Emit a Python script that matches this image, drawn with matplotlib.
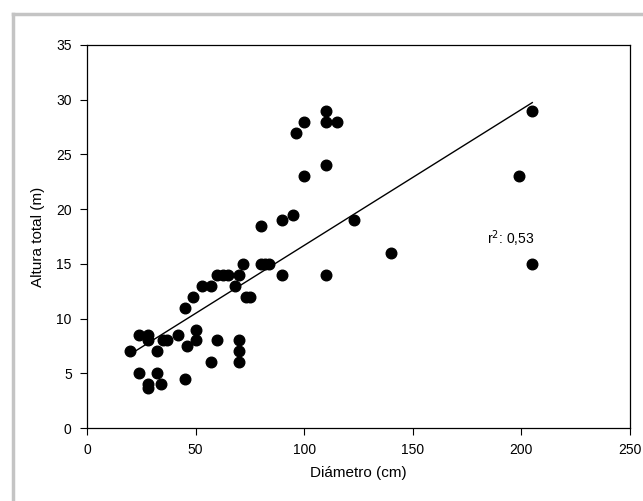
import numpy as np
import matplotlib.pyplot as plt
from matplotlib.lines import Line2D

plt.rcParams['font.family'] = ['Liberation Sans', 'DejaVu Sans']

# Diámetro (cm) e altura total (m)
diametro = [20, 24, 28, 28, 35, 37, 32, 42, 46, 50, 50, 60, 57, 70, 70, 70,
            24, 32, 28, 28, 34, 45, 45, 49, 53, 57, 60, 62.5, 65, 70, 68,
            72, 73, 75, 80, 82, 84, 90, 80, 90, 95, 100, 110, 96, 100, 110,
            110, 115, 205, 199, 205, 123, 140, 110]
altura = [7, 8.5, 8.5, 8, 8, 8, 7, 8.5, 7.5, 9, 8, 8, 6, 8, 7, 6,
          5, 5, 4, 3.7, 4, 4.5, 11, 12, 13, 13, 14, 14, 14, 14, 13,
          15, 12, 12, 15, 15, 15, 14, 18.5, 19, 19.5, 23, 24, 27, 28, 29,
          28, 28, 29, 23, 15, 19, 16, 14]
r2_texto = 'r$^2$: 0,53'

x = np.array(diametro)
y = np.array(altura)
coef = np.polyfit(x, y, 1)
x_linha = np.array([x.min(), x.max()])

fig = plt.figure(figsize=(6.43, 5.01), dpi=100)
ax = fig.add_axes([0.1353, 0.1457, 0.8445, 0.7645])

# moldura cinza da figura
fig.add_artist(Line2D([13 / 643, 13 / 643], [0, 1 - 14 / 501], transform=fig.transFigure,
                      color='#c4c4c4', lw=2.5))
fig.add_artist(Line2D([13 / 643, 1], [1 - 14 / 501, 1 - 14 / 501], transform=fig.transFigure,
                      color='#c4c4c4', lw=2.5))

ax.plot(x_linha, np.polyval(coef, x_linha), color='black', lw=1, zorder=2)
ax.scatter(x, y, s=58, color='black', zorder=3)

ax.text(184, 16.8, r2_texto, fontsize=10)

ax.set_xlim(0, 250)
ax.set_ylim(0, 35)
ax.set_xticks(np.arange(0, 251, 50))
ax.set_yticks(np.arange(0, 36, 5))
ax.tick_params(direction='out', length=5, width=0.8, labelsize=10, pad=6,
               top=False, right=False)
for s in ax.spines.values():
    s.set_linewidth(0.9)

ax.set_xlabel('Diámetro (cm)', fontsize=11, labelpad=6)
ax.set_ylabel('Altura total (m)', fontsize=11, labelpad=8)

plt.savefig('out.png', dpi=100)
